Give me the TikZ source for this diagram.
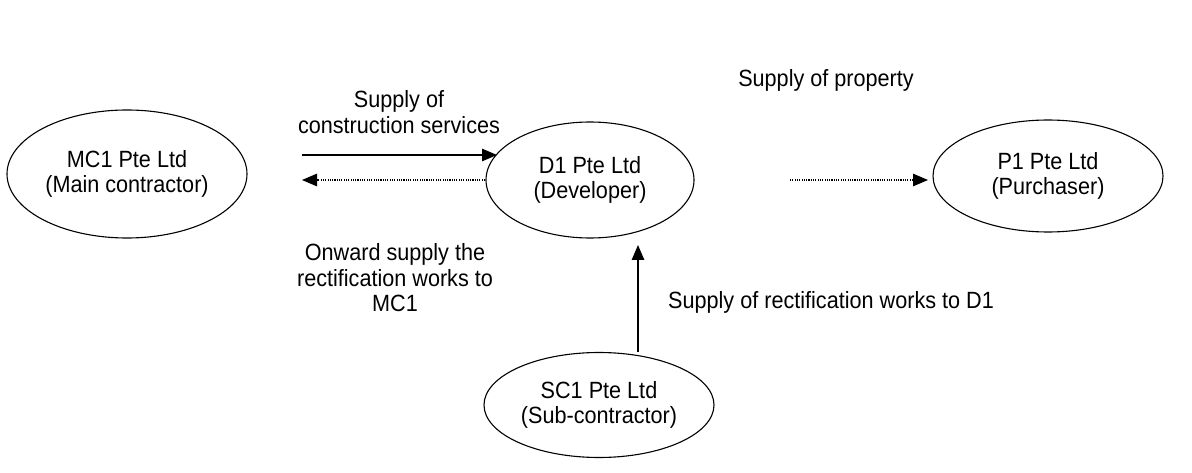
\documentclass[tikz,border=0pt]{standalone}
\usepackage{fontspec}
\setmainfont[FakeStretch=0.92]{Liberation Sans}
\usetikzlibrary{shapes.geometric,arrows.meta}
\begin{document}
\begin{tikzpicture}[x=1pt,y=-1pt,
  party/.style={draw,ellipse,line width=1.1pt,inner sep=0pt,align=center,
    font=\fontsize{23.5}{25.5}\selectfont},
  lbl/.style={align=center,inner sep=0pt,font=\fontsize{23.5}{25.5}\selectfont},
  solidarr/.style={line width=1.3pt,-{Triangle[length=15pt,width=12.5pt]}},
  dotarr/.style={line width=1.1pt,dash pattern=on 1.1pt off 1.2pt,-{Triangle[length=15pt,width=12.5pt]}}]
\useasboundingbox (0,0) rectangle (1192,473);
\node[party,minimum width=240pt,minimum height=128pt] (mc) at (127,174) {MC1 Pte Ltd\\(Main contractor)};
\node[party,minimum width=208pt,minimum height=116pt] (d) at (590,180) {D1 Pte Ltd\\(Developer)};
\node[party,minimum width=230pt,minimum height=112pt] (p) at (1048,176) {P1 Pte Ltd\\(Purchaser)};
\node[party,minimum width=230pt,minimum height=105pt] (sc) at (599,405) {SC1 Pte Ltd\\(Sub-contractor)};
\coordinate (a1s) at (302,155); \coordinate (a1e) at (497,155);
\coordinate (a2s) at (485,180); \coordinate (a2e) at (302,180);
\coordinate (a3s) at (790,180); \coordinate (a3e) at (928,180);
\coordinate (a4s) at (638,352); \coordinate (a4e) at (638,245);
\draw[solidarr] (a1s) -- (a1e);
\draw[dotarr] (a2s) -- (a2e);
\draw[dotarr] (a3s) -- (a3e);
\draw[solidarr] (a4s) -- (a4e);
\node[lbl] (l1) at (399,112) {Supply of\\construction services};
\node[lbl] (l2) at (395,278) {Onward supply the\\rectification works to\\MC1};
\node[lbl] (l3) at (826,80) {Supply of property};
\node[lbl,anchor=west] (l4) at (668,302) {Supply of rectification works to D1};
\end{tikzpicture}
\end{document}
